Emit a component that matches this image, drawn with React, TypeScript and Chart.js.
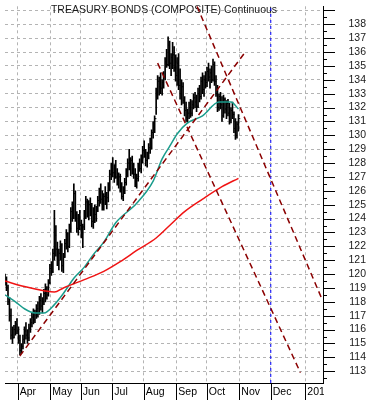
import React, { useEffect, useRef } from 'react';
import { Chart, registerables } from 'chart.js';
Chart.register(...registerables);

const FONT = '"Liberation Sans", Arial, sans-serif';
const chartTitle = 'TREASURY BONDS (COMPOSITE) Continuous';

// x axis is in trading-day index units
const monthStarts = [8.5, 30.3, 50.7, 71.7, 92.8, 114.5, 134.9, 156.6, 177.6, 200.7];
const monthLabels = ['Apr', 'May', 'Jun', 'Jul', 'Aug', 'Sep', 'Oct', 'Nov', 'Dec', '2011'];
const xMax = 212.5;
const yMin = 112.15;
const yMax = 139.3;
const markerDate = 177.6; // blue dashed marker (Dec)

const highs = [
  120.0, 119.8, 119.2, 118.3, 117.5, 116.2, 116.3, 116.6, 116.8, 116.2,
  115.6, 115.0, 115.6, 116.2, 116.5, 116.0, 116.4, 116.8, 117.2, 117.5,
  117.4, 117.8, 118.0, 118.4, 118.6, 118.3, 118.9, 119.3, 119.1, 119.6,
  120.7, 120.9, 121.8, 124.6, 123.5, 122.3, 121.8, 122.4, 122.2, 121.5,
  122.5, 123.2, 123.0, 123.6, 124.8, 125.2, 126.5, 126.0, 124.5, 124.3,
  124.6, 123.9, 123.6, 124.6, 125.6, 125.4, 125.3, 125.5, 125.1, 124.8,
  125.0, 124.9, 125.6, 126.2, 126.5, 126.0, 125.8, 126.3, 125.9, 126.6,
  127.5, 128.0, 128.4, 127.9, 128.2, 127.6, 127.3, 127.2, 126.6, 126.3,
  126.9, 127.6, 128.3, 129.0, 128.4, 128.5, 128.0, 127.6, 127.2, 128.0,
  128.3, 128.6, 129.2, 129.6, 129.0, 128.8, 129.4, 129.8, 130.4, 131.0,
  131.4, 133.4, 134.3, 134.2, 134.5, 134.0, 134.6, 135.6, 136.2, 137.1,
  136.8, 135.9, 136.7, 136.4, 135.8, 135.6, 135.9, 134.8, 134.0, 133.8,
  132.8, 132.4, 131.9, 132.4, 132.6, 132.5, 133.0, 133.1, 132.9, 133.4,
  133.6, 134.2, 134.5, 134.3, 134.6, 134.9, 135.2, 134.8, 135.0, 135.5,
  135.3, 134.3, 133.6, 133.0, 133.1, 132.8, 132.9, 132.7, 132.5, 132.6,
  132.3, 132.0, 132.4, 131.7, 131.2, 131.0, 131.5,
];
const lows = [
  119.2, 118.8, 117.8, 116.6, 115.3, 115.0, 115.4, 115.6, 115.7, 115.0,
  114.2, 114.3, 114.6, 115.0, 115.3, 115.0, 115.2, 115.8, 116.2, 116.4,
  116.5, 116.8, 116.9, 117.1, 117.4, 117.2, 117.8, 118.0, 118.2, 118.4,
  119.3, 119.9, 120.1, 121.0, 121.3, 120.6, 120.3, 121.0, 120.2, 120.1,
  121.2, 121.8, 121.6, 121.9, 123.0, 123.8, 124.0, 123.8, 123.0, 122.8,
  123.2, 122.6, 121.9, 123.2, 124.0, 124.1, 123.9, 124.2, 123.4, 123.3,
  123.7, 123.8, 124.5, 124.9, 125.1, 124.6, 124.6, 125.0, 124.7, 125.2,
  126.0, 126.8, 127.0, 126.6, 126.9, 126.4, 126.2, 125.9, 125.4, 125.3,
  125.8, 126.4, 127.0, 127.5, 127.1, 127.2, 126.9, 126.3, 126.2, 126.7,
  127.4, 127.3, 128.0, 128.4, 127.8, 127.7, 128.3, 128.7, 129.0, 129.8,
  130.2, 131.5, 132.6, 132.9, 133.0, 132.9, 133.4, 134.0, 134.9, 135.0,
  134.8, 134.3, 134.8, 134.6, 133.9, 133.6, 133.3, 132.6, 132.2, 132.3,
  131.4, 131.0, 130.9, 131.2, 131.3, 131.4, 131.9, 132.0, 131.7, 132.0,
  132.4, 132.6, 133.0, 132.8, 133.4, 133.5, 133.9, 133.4, 133.8, 133.9,
  133.6, 132.8, 131.7, 131.8, 131.9, 131.0, 131.3, 131.6, 131.2, 131.4,
  130.8, 130.9, 131.2, 130.2, 129.7, 129.8, 130.3,
];
const closes = [
  119.5, 119.0, 118.0, 117.0, 115.6, 115.4, 116.0, 116.4, 115.9, 115.2,
  114.5, 114.8, 115.3, 115.9, 115.6, 115.4, 116.1, 116.5, 116.9, 116.7,
  117.2, 117.5, 117.2, 118.1, 117.7, 118.0, 118.6, 119.0, 118.5, 119.4,
  120.4, 120.2, 121.5, 122.8, 121.8, 121.0, 121.5, 122.1, 120.6, 121.2,
  122.2, 122.9, 122.0, 123.3, 124.5, 124.2, 125.8, 124.1, 123.3, 123.9,
  123.5, 122.9, 123.4, 124.4, 125.2, 124.5, 125.0, 124.6, 123.8, 124.4,
  124.3, 124.6, 125.3, 125.8, 125.4, 124.9, 125.6, 125.2, 125.5, 126.3,
  127.2, 127.6, 127.3, 127.5, 127.0, 126.8, 127.0, 126.1, 125.6, 126.0,
  126.6, 127.4, 128.0, 127.8, 128.2, 127.5, 127.2, 126.6, 126.9, 127.8,
  127.6, 128.4, 128.9, 128.7, 128.2, 128.6, 129.1, 129.5, 130.2, 130.6,
  131.2, 133.1, 133.9, 133.5, 133.4, 133.8, 134.2, 135.3, 135.1, 136.5,
  135.2, 135.6, 135.8, 134.9, 134.3, 135.2, 133.6, 133.0, 133.5, 132.5,
  131.8, 131.3, 131.6, 132.0, 131.6, 132.2, 132.7, 132.4, 132.1, 133.0,
  132.8, 133.9, 133.3, 134.0, 133.8, 134.6, 134.2, 134.5, 134.0, 135.1,
  133.9, 133.0, 132.0, 132.8, 132.2, 131.4, 132.6, 131.9, 132.3, 131.6,
  131.1, 131.8, 131.5, 130.5, 130.0, 130.8, 131.2,
];

// 50-day style moving average (teal)
const tealIdx = [0, 7, 13, 20, 26, 33, 39, 46, 53, 59, 66, 74, 88, 99, 105, 110, 115, 122, 132, 143, 151, 156];
const tealVal = [118.5, 118.0, 117.5, 117.2, 117.2, 117.8, 118.6, 119.7, 120.5, 121.4, 122.3, 123.7, 125.1, 126.7, 128.3, 129.2, 130.1, 130.9, 131.4, 132.4, 132.4, 131.9];
// 200-day style moving average (red)
const redIdx = [0, 13, 26, 33, 39, 46, 53, 66, 77, 88, 101, 110, 120, 132, 145, 156];
const redVal = [119.5, 119.1, 118.8, 118.7, 119.0, 119.3, 119.6, 120.2, 120.9, 121.7, 122.6, 123.5, 124.5, 125.4, 126.3, 126.9];

// dashed trend lines: [x1, y1, x2, y2]
const trendUp = [9.9, 114.1, 161.2, 136.1];
const trendDownLower = [102, 135.2, 197.4, 112.9];
const trendDownUpper = [128.3, 139.3, 211.8, 118.2];

const decorPlugin = {
  id: 'decor',
  beforeDatasetsDraw(chart: any) {
    const { ctx, chartArea } = chart;
    ctx.save();
    ctx.font = `10.5px ${FONT}`;
    ctx.fillStyle = '#1a1a1a';
    ctx.textAlign = 'center';
    ctx.textBaseline = 'middle';
    ctx.fillText(chartTitle, (chartArea.left + chartArea.right) / 2, 10);
    ctx.restore();
  },
  afterDraw(chart: any) {
    const { ctx, chartArea } = chart;
    const xs = chart.scales.x;
    const ys = chart.scales.y;
    ctx.save();
    ctx.fillStyle = '#ffffff';
    ctx.fillRect(chartArea.right + 1, chartArea.bottom + 1, chart.width - chartArea.right, chart.height - chartArea.bottom);
    ctx.strokeStyle = '#000000';
    ctx.lineWidth = 1;
    ctx.beginPath();
    for (const m of monthStarts) {
      const px = Math.round(xs.getPixelForValue(m)) + 0.5;
      ctx.moveTo(px, chartArea.bottom);
      ctx.lineTo(px, chart.height);
    }
    for (let k = Math.ceil(yMin * 2); k <= Math.floor(yMax * 2); k++) {
      const py = Math.round(ys.getPixelForValue(k / 2)) + 0.5;
      const len = k % 2 === 0 ? 12 : 4;
      ctx.moveTo(chartArea.right, py);
      ctx.lineTo(chartArea.right + len, py);
    }
    ctx.stroke();
    ctx.restore();
  },
};

function seg(t: number[]) {
  return [{ x: t[0], y: t[1] }, { x: t[2], y: t[3] }];
}

export default function App() {
  const ref = useRef<HTMLCanvasElement>(null);
  useEffect(() => {
    const canvas = ref.current;
    if (!canvas) return;
    document.body.style.margin = '0';
    Chart.defaults.font.family = FONT;
    const bars = highs.map((h, i) => ({ x: i, y: [lows[i], h] }));
    const closeTicks = closes.map((c, i) => ({ x: i + 0.6, y: c }));
    const teal = tealIdx.map((x, i) => ({ x, y: tealVal[i] }));
    const red = redIdx.map((x, i) => ({ x, y: redVal[i] }));
    const dashed = (t: number[]) => ({
      type: 'line' as const,
      data: seg(t),
      borderColor: '#8b0000',
      borderWidth: 1.5,
      borderDash: [6, 4],
      pointRadius: 0,
      order: 1,
    });
    const chart = new Chart(canvas, {
      type: 'bar',
      data: {
        datasets: [
          {
            type: 'bar',
            data: bars as any,
            backgroundColor: '#000000',
            borderWidth: 0,
            barThickness: 1,
            order: 4,
          },
          {
            type: 'line',
            data: closeTicks as any,
            showLine: false,
            pointStyle: 'line',
            pointRadius: 0.9,
            pointBorderWidth: 1,
            pointBorderColor: '#000000',
            borderColor: '#000000',
            order: 4,
          },
          {
            type: 'line',
            data: red as any,
            borderColor: '#f01414',
            borderWidth: 1.5,
            pointRadius: 0,
            cubicInterpolationMode: 'monotone',
            order: 2,
          },
          {
            type: 'line',
            data: teal as any,
            borderColor: '#1a9c8c',
            borderWidth: 1.5,
            pointRadius: 0,
            cubicInterpolationMode: 'monotone',
            order: 2,
          },
          dashed(trendUp) as any,
          dashed(trendDownLower) as any,
          dashed(trendDownUpper) as any,
          {
            type: 'line',
            data: [{ x: markerDate, y: yMin }, { x: markerDate, y: yMax }] as any,
            borderColor: '#0000ff',
            borderWidth: 1,
            borderDash: [3, 3],
            pointRadius: 0,
            order: 1,
          },
        ],
      },
      options: {
        responsive: false,
        animation: false,
        layout: { padding: { left: 0, top: 0, right: 5, bottom: 0 } },
        plugins: { legend: { display: false }, tooltip: { enabled: false }, title: { display: false } },
        scales: {
          x: {
            type: 'linear',
            min: 0,
            max: xMax,
            offset: false,
            afterBuildTicks: (s: any) => {
              s.ticks = monthStarts.map((v) => ({ value: v }));
            },
            afterFit: (s: any) => {
              s.height = 17;
            },
            grid: { color: '#b4b4b4', lineWidth: 1, drawTicks: false, offset: false },
            border: { display: true, color: '#000000', width: 1, dash: [3, 3] },
            ticks: {
              align: 'start',
              labelOffset: 2,
              padding: 3,
              color: '#000000',
              font: { size: 10.5, family: FONT },
              maxRotation: 0,
              autoSkip: false,
              callback: (_v: any, i: number) => monthLabels[i],
            },
          },
          y: {
            type: 'linear',
            position: 'right',
            min: yMin,
            max: yMax,
            afterFit: (s: any) => {
              s.width = 43;
            },
            grid: { color: '#b4b4b4', lineWidth: 1, drawTicks: false },
            border: { display: true, color: '#000000', width: 1, dash: [3, 3] },
            ticks: {
              stepSize: 1,
              includeBounds: false,
              autoSkip: false,
              crossAlign: 'far',
              padding: 0,
              color: '#1a1a1a',
              font: { size: 10.5, family: FONT },
              callback: (v: any) => (v >= 113 && v <= 138 ? String(v) : ''),
            },
          },
        },
      },
      plugins: [decorPlugin],
    });
    return () => chart.destroy();
  }, []);
  return (
    <div style={{ position: 'fixed', left: 0, top: 0, width: 371, height: 400, background: '#ffffff' }}>
      <canvas ref={ref} width={371} height={400} style={{ display: 'block', width: 371, height: 400 }} />
    </div>
  );
}
